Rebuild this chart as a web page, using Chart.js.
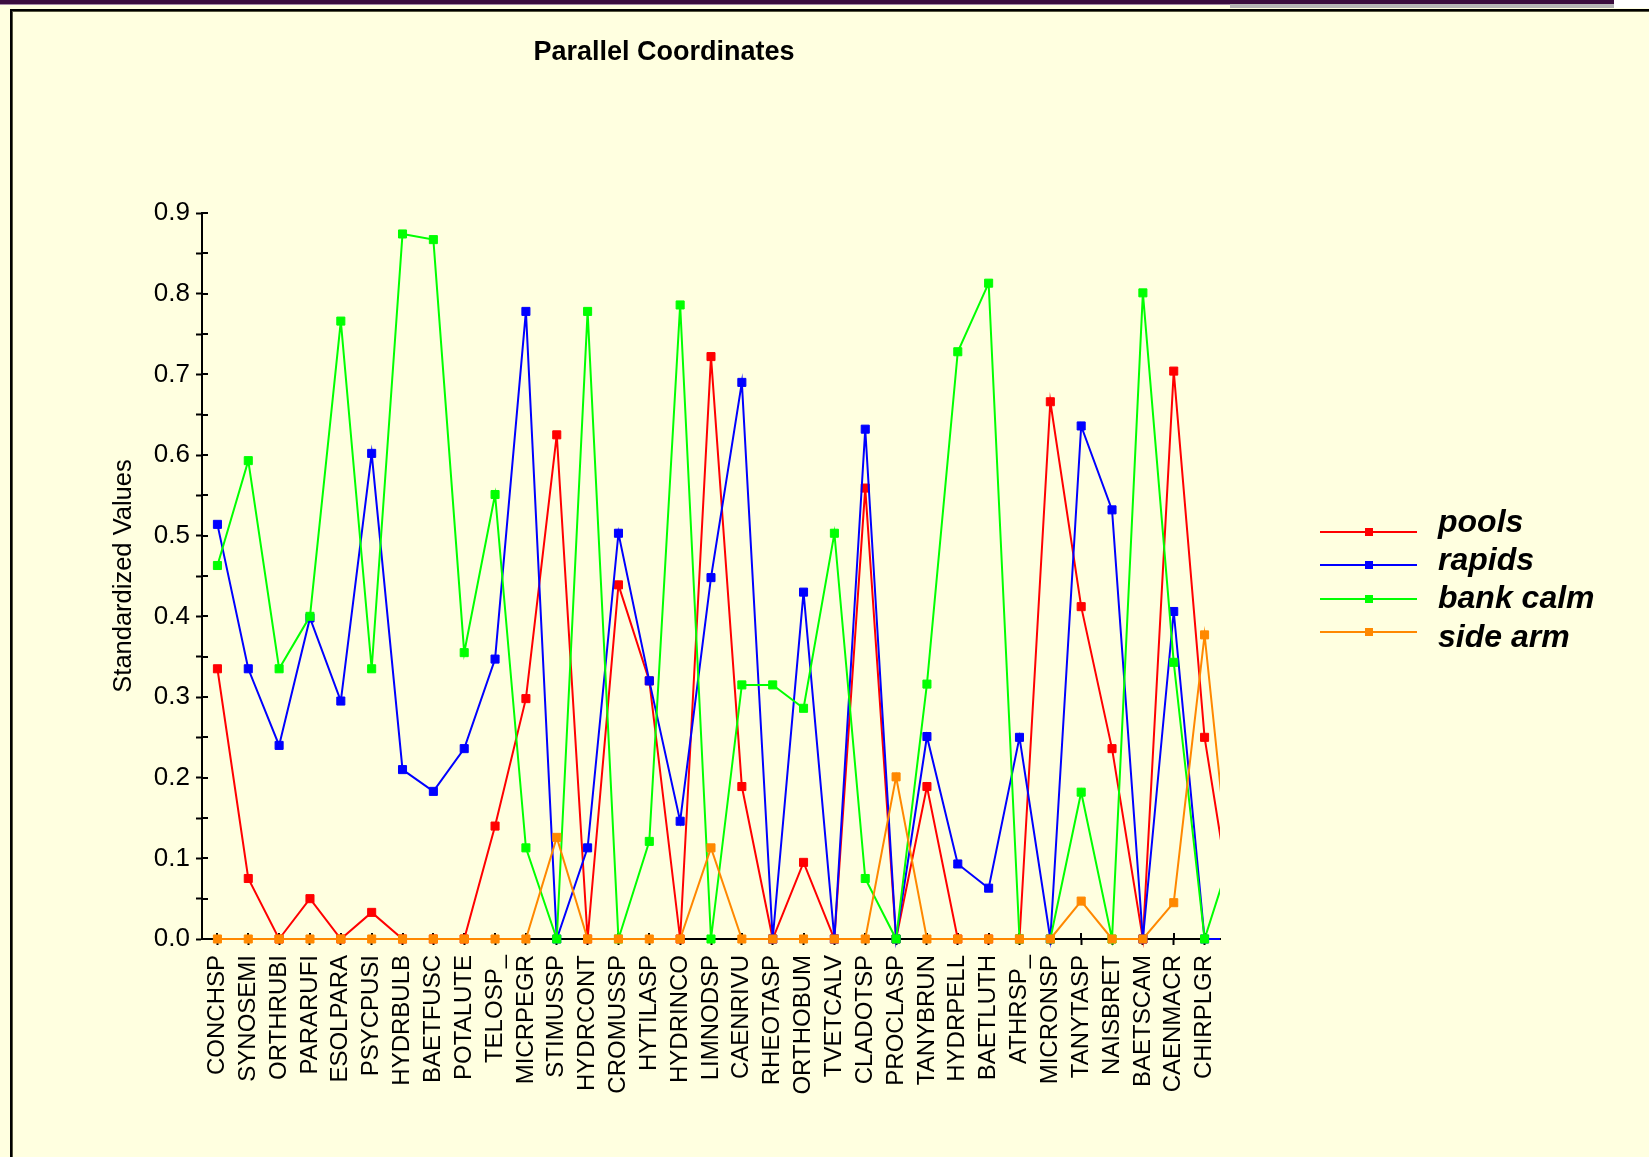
<!DOCTYPE html>
<html>
<head>
<meta charset="utf-8">
<title>Parallel Coordinates</title>
<script src="https://cdn.jsdelivr.net/npm/chart.js@4.4.1/dist/chart.umd.min.js"></script>
<style>
  html, body { margin: 0; padding: 0; background: #FFFFE0; }
  body { width: 1649px; height: 1157px; position: relative; overflow: hidden; }
  .band { position: absolute; }
  #panel {
    position: absolute; left: 10px; top: 9px; width: 1660px; height: 1170px;
    border-top: 2px solid #000; border-left: 2px solid #000;
    box-shadow: inset 1px 1px 0 #55553f;
  }
  #chart { position: absolute; left: 0; top: 0; }
</style>
</head>
<body>
<div class="band" style="left:0;top:0;width:1614px;height:4px;background:#3b0d3f"></div>
<div class="band" style="left:0;top:4px;width:1230px;height:1px;background:#a58aa5"></div>
<div class="band" style="left:1230px;top:4px;width:384px;height:4px;background:#b6b6b6"></div>
<div class="band" style="left:1614px;top:0;width:35px;height:8px;background:#ffffff"></div>
<div id="panel"></div>
<canvas id="chart" width="1649" height="1157"></canvas>
<script>
// Taxa along the horizontal axis
const categories = [
  'CONCHSP', 'SYNOSEMI', 'ORTHRUBI', 'PARARUFI', 'ESOLPARA', 'PSYCPUSI',
  'HYDRBULB', 'BAETFUSC', 'POTALUTE', 'TELOSP_', 'MICRPEGR', 'STIMUSSP',
  'HYDRCONT', 'CROMUSSP', 'HYTILASP', 'HYDRINCO', 'LIMNODSP', 'CAENRIVU',
  'RHEOTASP', 'ORTHOBUM', 'TVETCALV', 'CLADOTSP', 'PROCLASP', 'TANYBRUN',
  'HYDRPELL', 'BAETLUTH', 'ATHRSP_', 'MICRONSP', 'TANYTASP', 'NAISBRET',
  'BAETSCAM', 'CAENMACR', 'CHIRPLGR'
];

// Standardized values per habitat (the 34th column lies past the axis end and is clipped)
const pools    = [0.335, 0.075, 0, 0.050, 0, 0.033, 0, 0, 0, 0.140, 0.298, 0.625, 0, 0.439, 0.320, 0, 0.722,
                  0.189, 0, 0.095, 0, 0.559, 0, 0.189, 0, 0, 0, 0.666, 0.412, 0.236, 0, 0.704, 0.250, 0.010];
const rapids   = [0.514, 0.335, 0.240, 0.398, 0.295, 0.602, 0.210, 0.183, 0.236, 0.347, 0.778, 0, 0.113, 0.503, 0.320, 0.146, 0.448,
                  0.690, 0, 0.430, 0, 0.632, 0, 0.251, 0.093, 0.063, 0.250, 0, 0.636, 0.532, 0, 0.406, 0, 0];
const bankCalm = [0.463, 0.593, 0.335, 0.400, 0.766, 0.335, 0.874, 0.867, 0.355, 0.551, 0.113, 0, 0.778, 0, 0.121, 0.786, 0,
                  0.315, 0.315, 0.286, 0.503, 0.075, 0, 0.316, 0.728, 0.813, 0, 0, 0.182, 0, 0.801, 0.343, 0, 0.120];
const sideArm  = [0, 0, 0, 0, 0, 0, 0, 0, 0, 0, 0, 0.126, 0, 0, 0, 0, 0.113,
                  0, 0, 0, 0, 0, 0.201, 0, 0, 0, 0, 0, 0.047, 0, 0, 0.045, 0.377, 0.010];

const seriesNames  = ['pools', 'rapids', 'bank calm', 'side arm'];
const seriesColors = ['#ff0000', '#0000ff', '#00ff00', '#ff8800'];
const yTickLabels  = ['0.0', '0.1', '0.2', '0.3', '0.4', '0.5', '0.6', '0.7', '0.8', '0.9'];
const chartTitle   = 'Parallel Coordinates';
const yAxisTitle   = 'Standardized Values';

const FONT = "'Liberation Sans', Arial, Helvetica, sans-serif";
Chart.defaults.font.family = FONT;

const toPoints = vals => vals.map((v, i) => ({ x: i, y: v }));

const datasets = [pools, rapids, bankCalm, sideArm].map((vals, k) => ({
  label: seriesNames[k],
  data: toPoints(vals),
  borderColor: seriesColors[k],
  backgroundColor: seriesColors[k],
  borderWidth: 2,
  tension: 0,
  pointStyle: 'rect',
  pointRadius: 5.7,
  pointBorderWidth: 1,
  pointBackgroundColor: seriesColors[k],
  pointBorderColor: seriesColors[k],
  order: 3 - k,                       // later series are painted on top
  clip: { left: 10, top: 10, right: 0, bottom: 10 }
}));

// Tick marks crossing the axes: Chart.js draws the outer half, this draws the inner half
const innerTicks = {
  id: 'innerTicks',
  beforeDatasetsDraw(chart) {
    const { ctx, chartArea: a, scales: { x, y } } = chart;
    ctx.save();
    ctx.strokeStyle = '#000';
    ctx.lineWidth = 2;
    ctx.beginPath();
    y.ticks.forEach(t => {
      const py = Math.round(y.getPixelForValue(t.value));
      ctx.moveTo(a.left, py); ctx.lineTo(a.left + 6, py);
    });
    x.ticks.forEach(t => {
      const px = Math.round(x.getPixelForValue(t.value));
      ctx.moveTo(px, a.bottom); ctx.lineTo(px, a.bottom - 6);
    });
    ctx.stroke();
    ctx.restore();
  }
};

// Title and the line-with-marker legend on the right
const header = {
  id: 'header',
  afterDraw(chart) {
    const { ctx, chartArea: a } = chart;
    ctx.save();
    ctx.fillStyle = '#000';
    ctx.font = `bold 27px ${FONT}`;
    ctx.textAlign = 'center';
    ctx.textBaseline = 'middle';
    ctx.fillText(chartTitle, 664, 53);

    const x0 = a.right + 100, lineLen = 97;
    const lineTop = 532, lineStep = 33.3;   // sample lines
    const textTop = 532, textStep = 38.2;   // label baselines
    chart.data.datasets.forEach((ds, i) => {
      const yy = Math.round(lineTop + i * lineStep);
      ctx.strokeStyle = ds.borderColor;
      ctx.lineWidth = 2;
      ctx.beginPath();
      ctx.moveTo(x0, yy); ctx.lineTo(x0 + lineLen, yy);
      ctx.stroke();
      ctx.fillStyle = ds.borderColor;
      ctx.fillRect(Math.round(x0 + lineLen / 2) - 4, yy - 4, 8, 8);
      ctx.fillStyle = '#000';
      ctx.font = `italic bold 32px ${FONT}`;
      ctx.textAlign = 'left';
      ctx.textBaseline = 'alphabetic';
      ctx.fillText(ds.label, x0 + 118, Math.round(textTop + i * textStep));
    });
    ctx.restore();
  }
};

new Chart(document.getElementById('chart'), {
  type: 'line',
  data: { datasets },
  plugins: [innerTicks, header],
  options: {
    responsive: false,
    animation: false,
    devicePixelRatio: 1,
    layout: { padding: { left: 0, top: 213, right: 429, bottom: 0 } },
    plugins: {
      legend: { display: false },
      tooltip: { enabled: false }
    },
    scales: {
      x: {
        type: 'linear',
        min: -0.5,
        max: 32.5,
        afterBuildTicks: s => { s.ticks = categories.map((c, i) => ({ value: i })); },
        afterFit: s => { s.height = 218; },
        grid: { drawOnChartArea: false, drawTicks: true, tickLength: 6, tickWidth: 2, tickColor: '#000' },
        border: { display: true, color: '#000', width: 2 },
        ticks: {
          autoSkip: false,
          minRotation: 90,
          maxRotation: 90,
          padding: 10,
          color: '#000',
          font: { family: FONT, size: 24 },
          callback: v => categories[v] ?? ''
        }
      },
      y: {
        min: 0,
        max: 0.9,
        afterFit: s => { s.width = 202; },
        grid: { drawOnChartArea: false, drawTicks: true, tickLength: 6, tickWidth: 2, tickColor: '#000' },
        border: { display: true, color: '#000', width: 2 },
        ticks: {
          stepSize: 0.05,
          autoSkip: false,
          padding: 6,
          color: '#000',
          font: { family: FONT, size: 26 },
          callback: (v, i) => (i % 2 === 0 ? yTickLabels[i / 2] : '')
        },
        title: {
          display: true,
          text: yAxisTitle,
          color: '#000',
          font: { family: FONT, size: 25.5, lineHeight: 1 },
          padding: { top: 111, bottom: 0 }
        }
      }
    }
  }
});
</script>
</body>
</html>
